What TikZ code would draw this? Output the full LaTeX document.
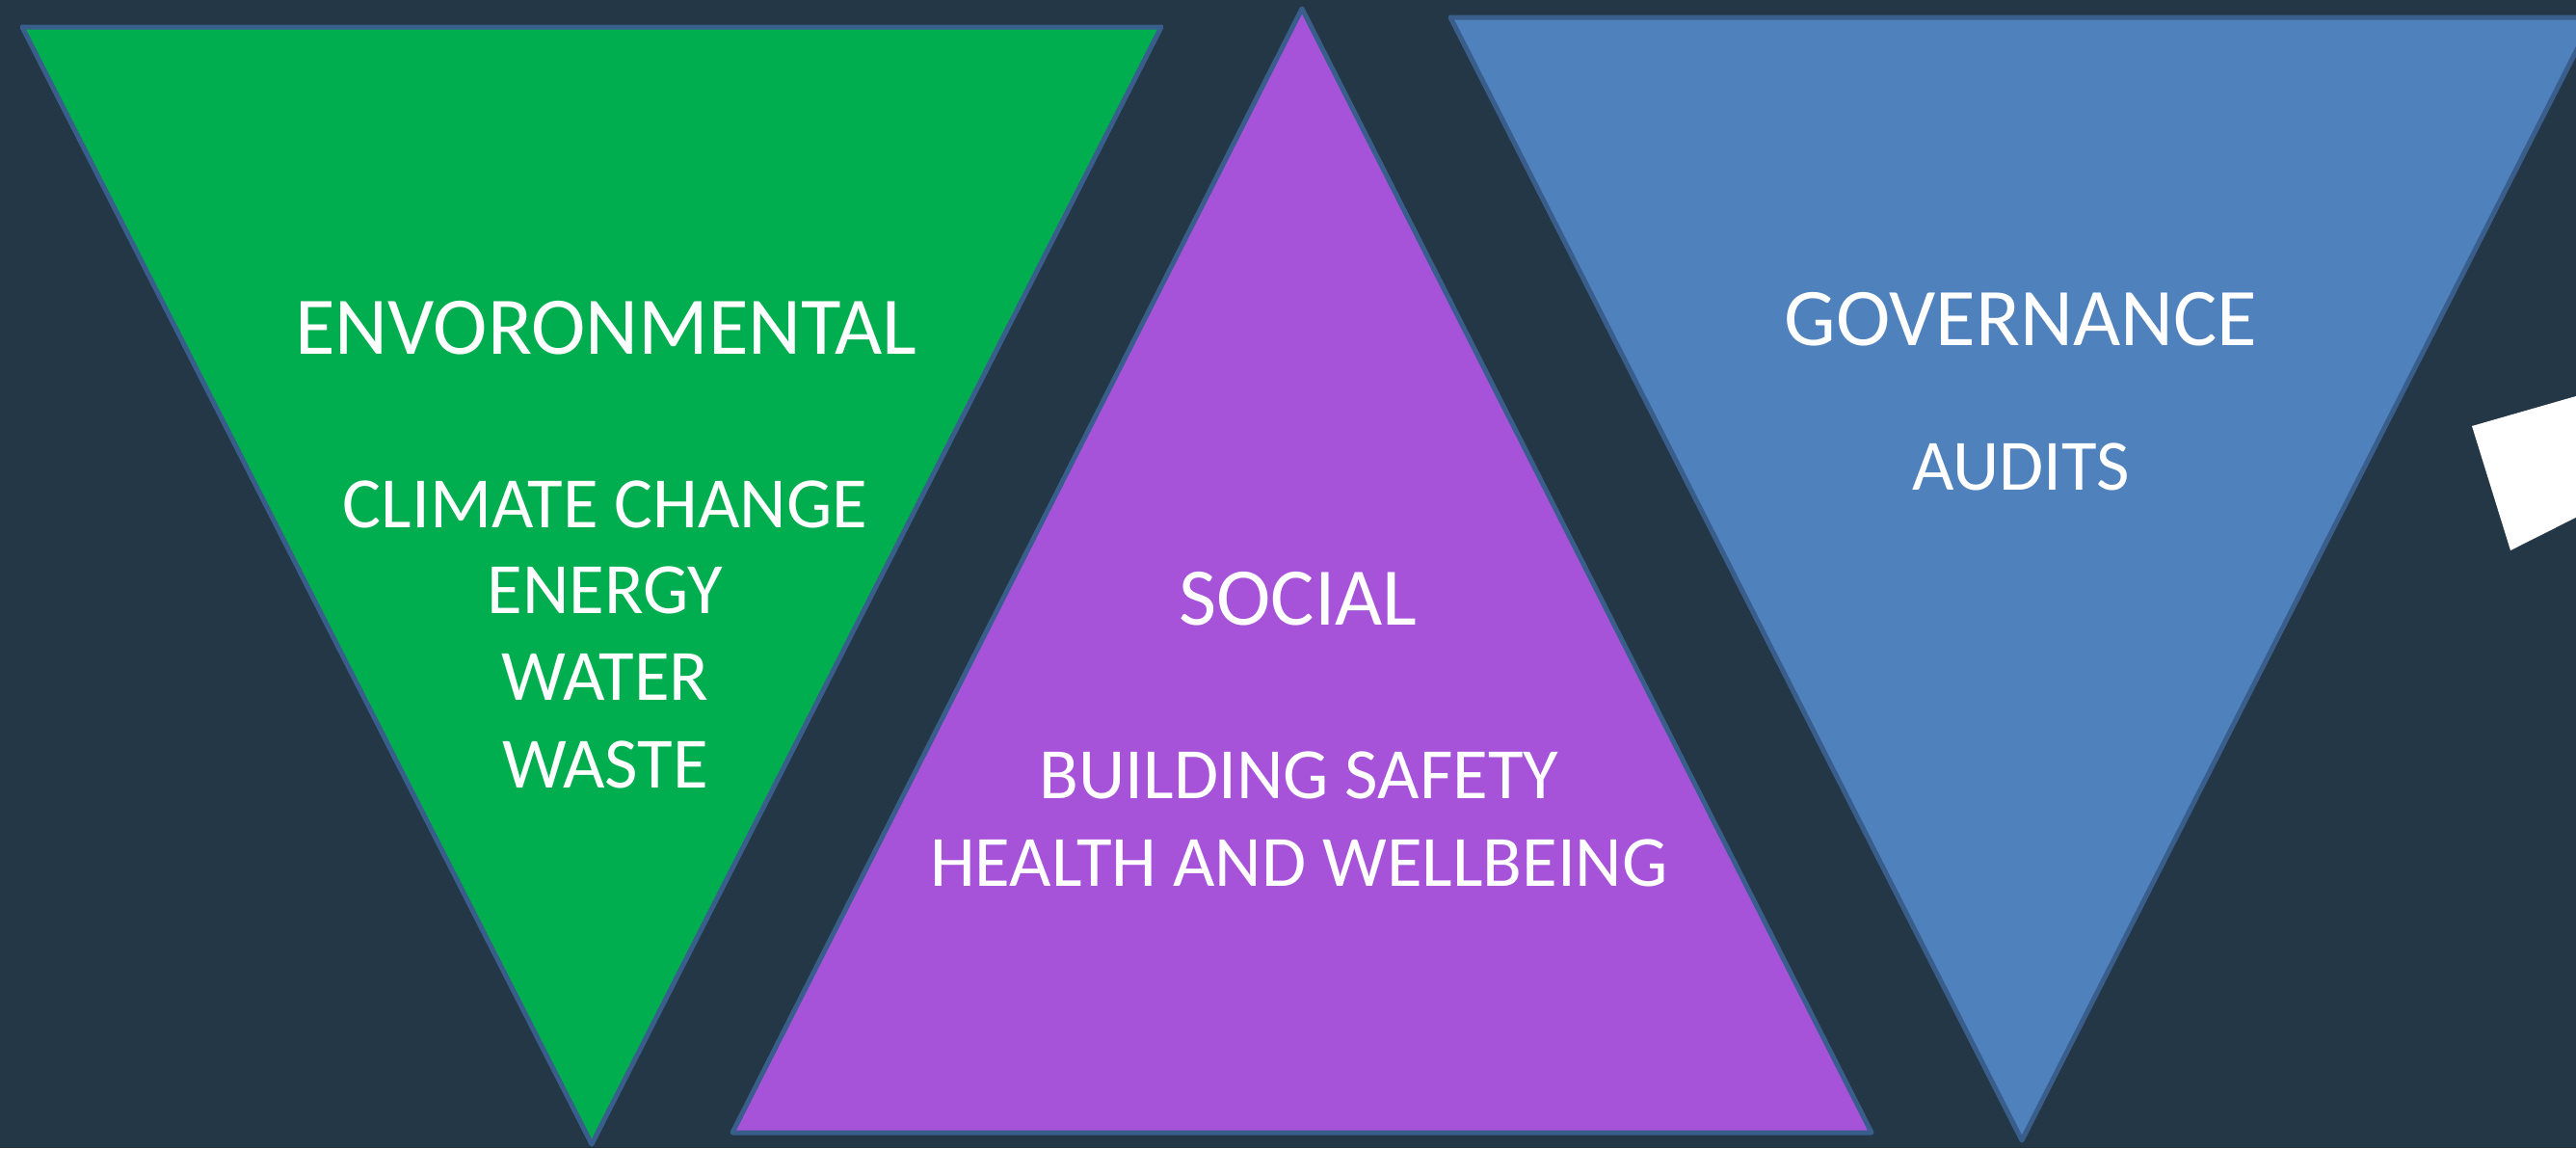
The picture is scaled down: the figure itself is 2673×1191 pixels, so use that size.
\documentclass[tikz,border=0pt]{standalone}
\usepackage{fontspec}
\setmainfont{Carlito}
\definecolor{bgc}{HTML}{243746}
\definecolor{edgec}{HTML}{3A5E8C}
\definecolor{envc}{HTML}{00AE4F}
\definecolor{socc}{HTML}{A653DA}
\definecolor{govc}{HTML}{4F81BD}
\tikzset{
  tri/.style={draw=edgec, line width=5pt, line join=round},
  titletext/.style={text=white, inner sep=0pt, anchor=base, font=\fontsize{85}{85}\selectfont},
  subtext/.style={text=white, inner sep=0pt, anchor=base, font=\fontsize{75}{75}\selectfont}
}
\begin{document}
\begin{tikzpicture}[x=1pt,y=-1pt]
\useasboundingbox (0,0) rectangle (2673,1191);
\clip (0,0) rectangle (2673,1191);
\fill[bgc] (0,0) rectangle (2673,1191);
% triangles
\draw[tri, fill=envc] (23,28) -- (1205,28) -- (614,1187) -- cycle;
\draw[tri, fill=socc] (1351,9) -- (1942,1175) -- (760,1175) -- cycle;
\draw[tri, fill=govc] (1505,18) -- (2691,18) -- (2098,1183) -- cycle;
% white shape at right edge
\fill[white] (2565,442) -- (2760,386) -- (2760,493) -- (2605,571) -- cycle;
% texts
\node[titletext] (envt) at (629,367) {ENVORONMENTAL};
\node[subtext] (env1) at (628,547) {CLIMATE CHANGE};
\node[subtext] (env2) at (628,636) {ENERGY};
\node[subtext] (env3) at (628,726) {WATER};
\node[subtext] (env4) at (628,817) {WASTE};
\node[titletext] (soct) at (1347,648) {SOCIAL};
\node[subtext] (soc1) at (1348,828) {BUILDING SAFETY};
\node[subtext] (soc2) at (1348,919) {HEALTH AND WELLBEING};
\node[titletext] (govt) at (2097,358) {GOVERNANCE};
\node[subtext] (gov1) at (2097,508) {AUDITS};
\end{tikzpicture}
\end{document}
